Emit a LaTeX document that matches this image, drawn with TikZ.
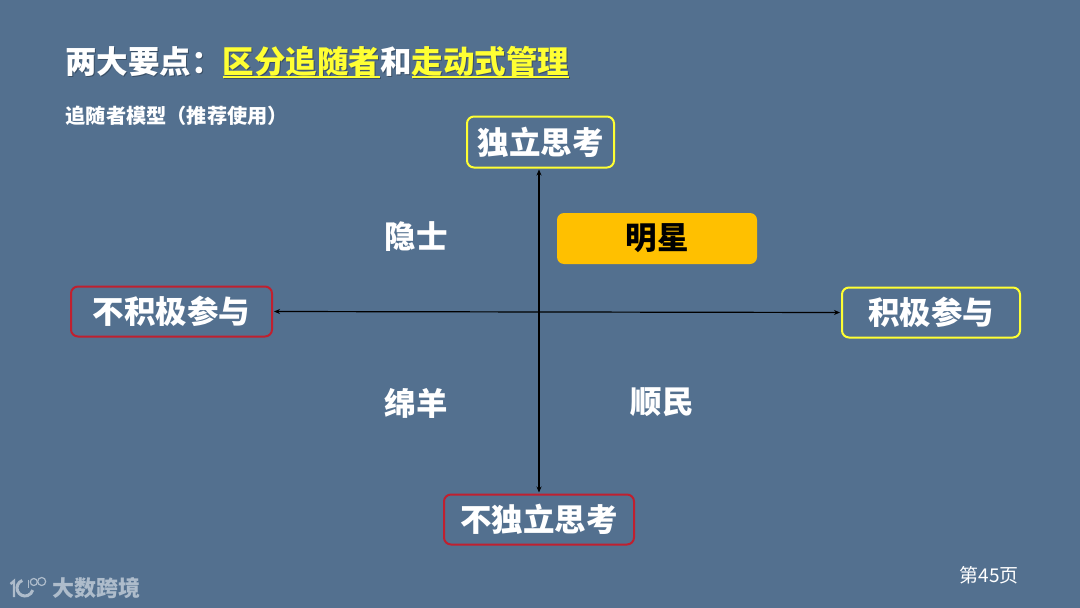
\documentclass[tikz,border=0pt]{standalone}
\usepackage{fontspec}
\usetikzlibrary{arrows.meta}
\setmainfont{Noto Sans CJK SC}
\definecolor{bgblue}{HTML}{53708F}
\definecolor{ylw}{HTML}{FFFF33}
\definecolor{redb}{HTML}{C0202F}
\definecolor{amber}{HTML}{FFC000}
\definecolor{logotint}{HTML}{AEBCCB}
\definecolor{shade}{HTML}{3A4F66}
\newcommand{\yul}[1]{\setbox0\hbox{#1}\rlap{\rule[-4pt]{\wd0}{1.7pt}}\box0}
\newcommand{\titleparts}[2]{两大要点：{\color{#1}\yul{区分追随者}}和{\color{#2}\yul{走动式管理}}}
\tikzset{
  x=1pt,y=-1pt,
  fs/.style={font=\fontsize{#1}{#1}\selectfont\bfseries},
  boxy/.style={draw=ylw,line width=2pt,rounded corners=7pt,text=white,fs=31.5,inner sep=0pt},
  boxr/.style={draw=redb,line width=2pt,rounded corners=7pt,text=white,fs=31.5,inner sep=0pt},
  quad/.style={text=white,fs=31.5,inner sep=0pt},
  axis/.style={black,line width=1.2pt,{Stealth[length=6pt,width=5pt]}-{Stealth[length=6pt,width=5pt]},shorten >=1pt,shorten <=1pt},
  plain/.style={anchor=west,inner sep=0pt},
  logo/.style={draw=logotint,line width=2pt}
}
\begin{document}
\begin{tikzpicture}
\useasboundingbox[fill=bgblue] (0,0) rectangle (1080,608);
% title with its soft drop shadow
\node[plain,text=shade,fs=31.5] (titleshadow) at (66.2,63.2) {\titleparts{shade}{shade}};
\node[plain,text=white,fs=31.5] (title) at (65,62) {\titleparts{ylw}{ylw}};
\node[plain,text=white,fs=20.2] (sub) at (65.5,116) {追随者模型（推荐使用）};
% axis boxes
\node[boxy,minimum width=147pt,minimum height=51pt] (top) at (540.5,142) {独立思考};
\node[boxr,minimum width=190pt,minimum height=50pt] (bot) at (539,519.5) {不独立思考};
\node[boxr,minimum width=201pt,minimum height=50pt] (lft) at (171.5,311.5) {不积极参与};
\node[boxy,minimum width=178pt,minimum height=50pt] (rgt) at (931,312.5) {积极参与};
\draw[axis] (top.south -| bot.north) -- (bot.north);
\draw[axis] (lft.east) -- (rgt.west);
% quadrants
\node[fill=amber,rounded corners=7pt,minimum width=200pt,minimum height=51pt,inner sep=0pt,text=black,fs=31.5] (star) at (657,238.5) {明星};
\node[quad] (hermit) at (416,237) {隐士};
\node[quad] (sheep) at (416,403) {绵羊};
\node[quad] (docile) at (662,402) {顺民};
% footer
\node[text=white,font=\fontsize{19}{19}\selectfont,inner sep=0pt] (page) at (989,575) {第45页};
\node[plain,text=logotint,font=\fontsize{22}{22}\selectfont\bfseries] (brand) at (52,588) {大数跨境};
\draw[logo,line width=2.4pt] (10.5,584) -- (14,581) -- (14,597);
\draw[logo,line width=3pt] (25,588) ++(250:8) arc[start angle=250,end angle=15,radius=8];
\draw[logo,line width=1.2pt] (28.5,579.5) -- (28.5,588);
\draw[logo,line width=1.2pt] (33.8,582) circle[radius=3.5];
\draw[logo,line width=1.2pt] (41.7,581.5) circle[radius=4];
\end{tikzpicture}
\end{document}
